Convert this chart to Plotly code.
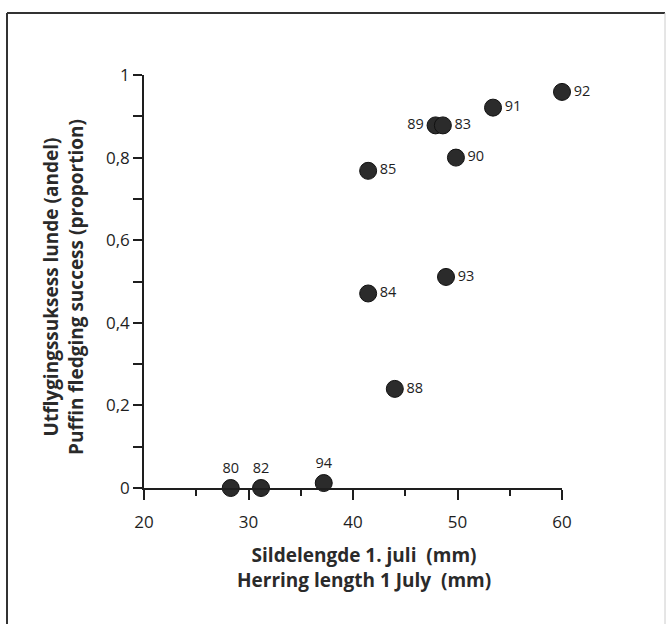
import plotly.graph_objects as go

# Data
years = ["80", "82", "94", "84", "85", "88", "89", "83", "93", "90", "91", "92"]
herring_length = [28.3, 31.2, 37.2, 41.45, 41.45, 44.0, 47.9, 48.6, 48.9, 49.85, 53.4, 60.0]
fledging_success = [0.0, 0.0, 0.012, 0.471, 0.768, 0.240, 0.878, 0.878, 0.511, 0.80, 0.921, 0.959]
label_pos = ["top center", "top center", "top center", "middle right", "middle right",
             "middle right", "middle left", "middle right", "middle right", "middle right",
             "middle right", "middle right"]

x_ticks = [20, 30, 40, 50, 60]
y_ticks = [0, 0.2, 0.4, 0.6, 0.8, 1]
y_ticklabels = ["0", "0,2", "0,4", "0,6", "0,8", "1"]

W, H = 668, 624
L, R, T, B = 144, 562, 75, 488
FONT = "Open Sans"
INK = "#1e1e1e"

def px(xp):
    return (xp - L) / (R - L)

def py(yp):
    return (B - yp) / (B - T)

fig = go.Figure()
fig.add_trace(go.Scatter(
    x=herring_length, y=fledging_success, mode="markers+text",
    text=years, textposition=label_pos,
    textfont=dict(family=FONT, size=14.5, color=INK),
    marker=dict(size=17, color="#2b2b2b", line=dict(color="#111111", width=1)),
    cliponaxis=False, showlegend=False, hoverinfo="skip",
))

fig.update_layout(
    width=W, height=H,
    margin=dict(l=L, r=W - R, t=T, b=H - B),
    paper_bgcolor="white", plot_bgcolor="white",
    font=dict(family=FONT, color=INK),
    xaxis=dict(
        range=[20, 60], tickvals=x_ticks, ticks="outside", ticklen=10, tickwidth=1.5,
        tickcolor=INK, showline=True, linecolor=INK, linewidth=1.5, showgrid=False,
        zeroline=False, tickfont=dict(family=FONT, size=17, color=INK),
        ticklabelstandoff=8,
        minor=dict(tickvals=[25, 35, 45, 55], ticks="outside", ticklen=6, tickwidth=1.5,
                   tickcolor=INK, showgrid=False),
    ),
    yaxis=dict(
        range=[0, 1], tickvals=y_ticks, ticktext=y_ticklabels, ticks="outside", ticklen=9,
        tickwidth=1.5, tickcolor=INK, showline=True, linecolor=INK, linewidth=1.5,
        showgrid=False, zeroline=False, tickfont=dict(family=FONT, size=17, color=INK),
        minor=dict(tickvals=[0.1, 0.3, 0.5, 0.7, 0.9], ticks="outside", ticklen=9,
                   tickwidth=1.5, tickcolor=INK, showgrid=False),
    ),
)

# Axis titles as annotations (two lines each)
fig.add_annotation(
    x=px(364), y=py(567), xref="paper", yref="paper", showarrow=False,
    text="<b>Sildelengde 1. juli  (mm)<br>Herring length 1 July  (mm)</b>",
    font=dict(family=FONT, size=19, color="#2a2a2a"), align="center",
    xanchor="center", yanchor="middle",
)
fig.add_annotation(
    x=px(63), y=py(287), xref="paper", yref="paper", showarrow=False, textangle=-90,
    text="<b>Utflygingssuksess lunde (andel)<br>Puffin fledging success (proportion)</b>",
    font=dict(family=FONT, size=19, color="#2a2a2a"), align="center",
    xanchor="center", yanchor="middle",
)

# Frame around the figure
fig.add_shape(type="line", xref="paper", yref="paper", x0=px(7), x1=px(665), y0=py(13), y1=py(13),
              line=dict(color="#333333", width=2))
fig.add_shape(type="line", xref="paper", yref="paper", x0=px(7), x1=px(7), y0=py(13), y1=py(624),
              line=dict(color="#333333", width=2))
fig.add_shape(type="line", xref="paper", yref="paper", x0=px(665), x1=px(665), y0=py(13), y1=py(624),
              line=dict(color="#cccccc", width=1))

fig.write_html("out.html", config={"displayModeBar": False},
               post_script="document.body.style.margin='0';document.body.style.overflow='hidden';")
